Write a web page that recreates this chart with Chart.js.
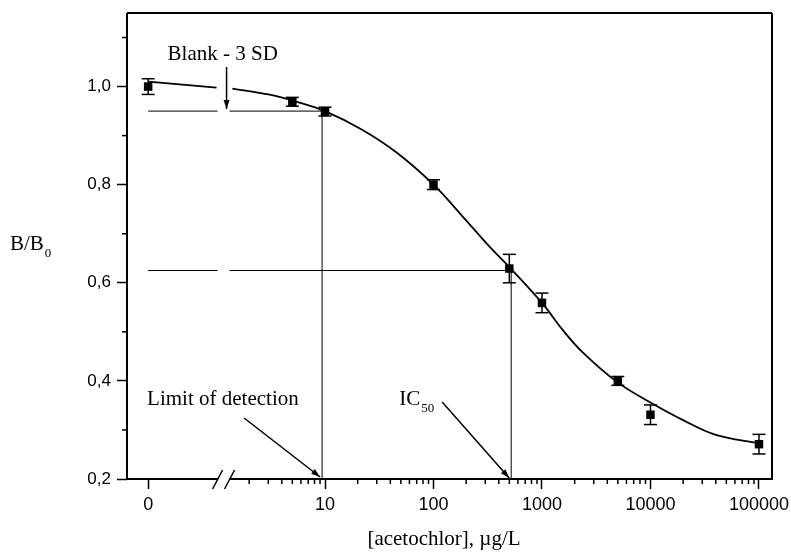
<!DOCTYPE html>
<html lang="en">
<head>
  <meta charset="UTF-8">
  <title>B/B0 vs acetochlor</title>
  <script src="https://cdn.jsdelivr.net/npm/chart.js"></script>
  <style>
    body { margin: 0; background: #fff; }
  </style>
</head>
<body>
  <canvas id="chart" width="791" height="552"></canvas>

<script>
  // measured points, acetochlor in ug/L (0 = blank)
  const conc = [0, 5, 10, 100, 500, 1000, 5000, 10000, 100000]
  const ratio = [1.0, 0.969, 0.949, 0.80, 0.629, 0.559, 0.40, 0.331, 0.271]
  const sd = [0.016, 0.009, 0.009, 0.01, 0.029, 0.02, 0.009, 0.02, 0.02]

  // fitted curve
  const fitConc = [1.4, 3, 5.5, 10, 22, 46, 100, 186, 330, 500, 1000, 1550, 2400, 4900, 10000, 20000, 40000, 100000]
  const fitRatio = [0.996, 0.984, 0.969, 0.950, 0.912, 0.865, 0.80, 0.735, 0.673, 0.632, 0.559, 0.504, 0.457, 0.398, 0.356, 0.320, 0.290, 0.273]
  // short piece of the curve left of the axis break
  const fitLeftConc = [0, 1]
  const fitLeftRatio = [1.01, 0.998]

  const xTickValues = [0, 10, 100, 1000, 10000, 100000]
  const xTickLabels = ['0', '10', '100', '1000', '10000', '100000']
  const yTickValues = [0.2, 0.4, 0.6, 0.8, 1.0]
  const yTickLabels = ['0,2', '0,4', '0,6', '0,8', '1,0']
  const yMinorTicks = [0.3, 0.5, 0.7, 0.9, 1.1]

  const blankMinus3SD = 0.95
  const lod = 9.4
  const ic50 = 520
  const ic50Ratio = 0.625

  // x axis is log10 with the blank (0) put left of a break
  const ZERO_POS = -0.63
  const BREAK_FROM = 0.01
  const BREAK_TO = 0.12
  const pos = c => c === 0 ? ZERO_POS : Math.log10(c)

  const SERIF = "'Liberation Serif', 'Times New Roman', serif"
  const SANS = "'Liberation Sans', Arial, sans-serif"

  function seg(ctx, x1, y1, x2, y2) {
    ctx.beginPath()
    ctx.moveTo(x1, y1)
    ctx.lineTo(x2, y2)
    ctx.stroke()
  }

  function arrow(ctx, x1, y1, x2, y2) {
    seg(ctx, x1, y1, x2, y2)
    const a = Math.atan2(y2 - y1, x2 - x1)
    ctx.beginPath()
    ctx.moveTo(x2, y2)
    ctx.lineTo(x2 - 9 * Math.cos(a) + 3 * Math.sin(a), y2 - 9 * Math.sin(a) - 3 * Math.cos(a))
    ctx.lineTo(x2 - 9 * Math.cos(a) - 3 * Math.sin(a), y2 - 9 * Math.sin(a) + 3 * Math.cos(a))
    ctx.closePath()
    ctx.fill()
  }

  function subText(ctx, main, sub, x, y, size) {
    ctx.font = size + 'px ' + SERIF
    ctx.fillText(main, x, y)
    const w = ctx.measureText(main).width
    ctx.font = Math.round(size * 0.62) + 'px ' + SERIF
    ctx.fillText(sub, x + w + 1, y + 7)
  }

  const decorations = {
    id: 'decorations',
    beforeDatasetsDraw(chart) {
      const { ctx, chartArea: area, scales: { x, y } } = chart
      const px = c => x.getPixelForValue(pos(c))
      const py = v => y.getPixelForValue(v)
      const bx1 = x.getPixelForValue(BREAK_FROM)
      const bx2 = x.getPixelForValue(BREAK_TO)
      ctx.save()
      ctx.strokeStyle = '#000'
      ctx.fillStyle = '#000'
      ctx.lineWidth = 1

      // blank - 3 SD level and limit of detection
      seg(ctx, px(0), py(blankMinus3SD), bx1, py(blankMinus3SD))
      seg(ctx, bx2, py(blankMinus3SD), px(lod), py(blankMinus3SD))
      seg(ctx, px(lod), py(blankMinus3SD), px(lod), area.bottom)

      // IC50
      seg(ctx, px(0), py(ic50Ratio), bx1, py(ic50Ratio))
      seg(ctx, bx2, py(ic50Ratio), px(ic50), py(ic50Ratio))
      seg(ctx, px(ic50), py(ic50Ratio), px(ic50), area.bottom)

      // error bars
      ctx.lineWidth = 1.5
      conc.forEach((c, i) => {
        const cx = px(c)
        const lo = py(ratio[i] - sd[i])
        const hi = py(ratio[i] + sd[i])
        seg(ctx, cx, lo, cx, hi)
        seg(ctx, cx - 6.5, lo, cx + 6.5, lo)
        seg(ctx, cx - 6.5, hi, cx + 6.5, hi)
      })
      ctx.restore()
    },
    afterDraw(chart) {
      const { ctx, chartArea: area, scales: { x, y } } = chart
      const py = v => y.getPixelForValue(v)
      const px = c => x.getPixelForValue(pos(c))
      const bx1 = x.getPixelForValue(BREAK_FROM)
      const bx2 = x.getPixelForValue(BREAK_TO)
      ctx.save()
      ctx.strokeStyle = '#000'
      ctx.fillStyle = '#000'

      // frame, bottom axis broken
      ctx.lineWidth = 2
      seg(ctx, area.left, area.top, area.right, area.top)
      seg(ctx, area.right, area.top, area.right, area.bottom)
      seg(ctx, area.left, area.top, area.left, area.bottom)
      seg(ctx, area.left - 1, area.bottom, bx1, area.bottom)
      seg(ctx, bx2, area.bottom, area.right + 1, area.bottom)
      ctx.lineWidth = 1.5
      seg(ctx, bx1 - 5, area.bottom + 10, bx1 + 5, area.bottom - 9)
      seg(ctx, bx2 - 5, area.bottom + 10, bx2 + 5, area.bottom - 9)

      // minor ticks
      for (let d = 0; d < 5; d++) {
        for (let k = 2; k < 10; k++) {
          const xp = x.getPixelForValue(d + Math.log10(k))
          seg(ctx, xp, area.bottom, xp, area.bottom + 5)
        }
      }
      yMinorTicks.forEach(v => seg(ctx, area.left - 5, py(v), area.left, py(v)))

      // annotations
      ctx.textBaseline = 'alphabetic'
      ctx.textAlign = 'left'
      ctx.font = '21px ' + SERIF
      const bMid = (bx1 + bx2) / 2
      ctx.fillText('Blank - 3 SD', bMid - 56, 60)
      arrow(ctx, bMid + 3, 67, bMid + 3, py(blankMinus3SD) - 2)

      ctx.fillText('Limit of detection', px(lod) - 175, 405)
      arrow(ctx, px(lod) - 78, 418, px(lod) - 2, area.bottom - 2)

      subText(ctx, 'IC', '50', px(ic50) - 112, 405, 21)
      arrow(ctx, px(ic50) - 69, 402, px(ic50) - 2, area.bottom - 1)

      subText(ctx, 'B/B', '0', 10, 250, 21)

      ctx.textAlign = 'center'
      ctx.font = '21px ' + SERIF
      ctx.fillText('[acetochlor], \u00b5g/L', 444, 545)
      ctx.restore()
    }
  }

  const chartContext = document.getElementById('chart')

  new Chart(chartContext, {
    type: 'scatter',
    data: {
      datasets: [
        {
          data: fitLeftConc.map((c, i) => ({ x: pos(c), y: fitLeftRatio[i] })),
          showLine: true,
          borderColor: '#000',
          borderWidth: 1.8,
          pointRadius: 0
        },
        {
          data: fitConc.map((c, i) => ({ x: pos(c), y: fitRatio[i] })),
          showLine: true,
          tension: 0.4,
          borderColor: '#000',
          borderWidth: 1.8,
          pointRadius: 0
        },
        {
          data: conc.map((c, i) => ({ x: pos(c), y: ratio[i] })),
          pointStyle: 'rect',
          pointRadius: 6,
          backgroundColor: '#000',
          borderColor: '#000',
          borderWidth: 0
        }
      ]
    },
    options: {
      responsive: false,
      animation: false,
      layout: { padding: { top: 13, right: 19, left: 0, bottom: 0 } },
      plugins: { legend: { display: false }, tooltip: { enabled: false } },
      scales: {
        x: {
          type: 'linear',
          min: -0.825,
          max: 5.12,
          afterBuildTicks: scale => {
            scale.ticks = xTickValues.map(v => ({ value: pos(v) }))
          },
          afterFit: scale => {
            scale.height = 73
            scale.paddingLeft = 0
            scale.paddingRight = 0
          },
          ticks: {
            callback: (val, i) => xTickLabels[i],
            autoSkip: false,
            maxRotation: 0,
            padding: 5,
            color: '#000',
            font: { family: SANS, size: 18 }
          },
          grid: { drawOnChartArea: false, tickLength: 10, tickColor: '#000', tickWidth: 1.5 },
          border: { display: false }
        },
        y: {
          min: 0.2,
          max: 1.15,
          afterBuildTicks: scale => {
            scale.ticks = yTickValues.map(v => ({ value: v }))
          },
          afterFit: scale => {
            scale.width = 127
            scale.paddingTop = 0
            scale.paddingBottom = 0
          },
          ticks: {
            callback: (val, i) => yTickLabels[i],
            padding: 6,
            color: '#000',
            font: { family: SANS, size: 17 }
          },
          grid: { drawOnChartArea: false, tickLength: 10, tickColor: '#000', tickWidth: 1.5 },
          border: { display: false }
        }
      }
    },
    plugins: [decorations]
  })
</script>
</body>
</html>
